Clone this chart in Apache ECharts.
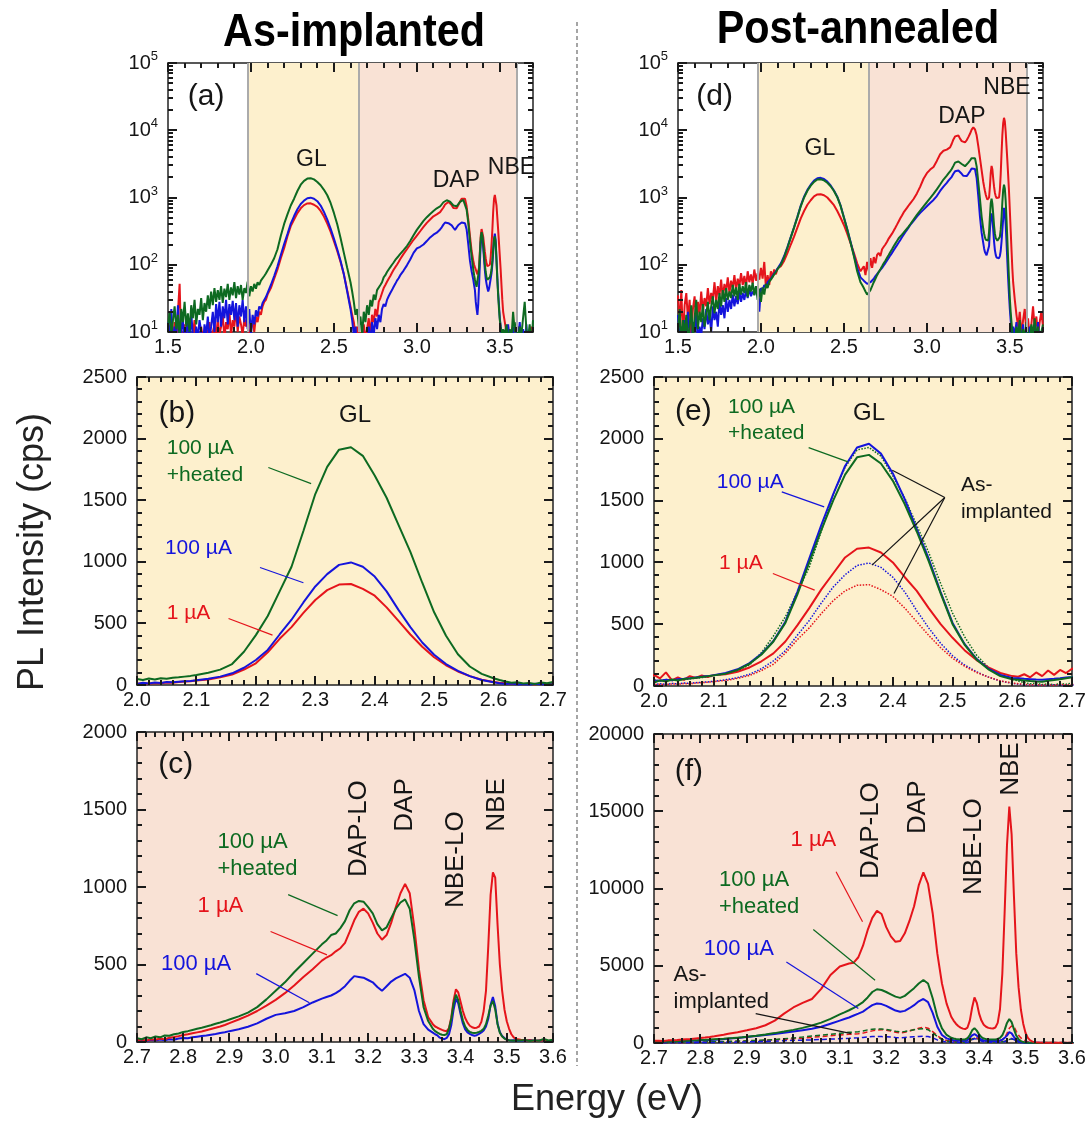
<!DOCTYPE html>
<html>
<head>
<meta charset="utf-8">
<title>PL spectra</title>
<script src="https://cdn.jsdelivr.net/npm/echarts@6.0.0/dist/echarts.min.js"></script>
<style>
html, body { margin: 0; padding: 0; background: #fff; }
#main { width: 1092px; height: 1126px; }
</style>
</head>
<body>
<div id="main"></div>
<script>
// photon energy (eV), one grid shared by every spectrum
var energy = [
  1.50,1.51,1.52,1.53,1.54,1.55,1.56,1.57,1.58,1.59,1.60,1.61,1.62,1.63,1.64,1.65,1.66,1.67,1.68,1.69,
  1.70,1.71,1.72,1.73,1.74,1.75,1.76,1.77,1.78,1.79,1.80,1.81,1.82,1.83,1.84,1.85,1.86,1.87,1.88,1.89,
  1.90,1.91,1.92,1.93,1.94,1.95,1.96,1.97,1.98,1.99,2.00,2.01,2.02,2.03,2.04,2.05,2.06,2.07,2.08,2.09,2.10,
  2.12,2.14,2.16,2.18,2.20,2.22,2.24,2.26,2.28,2.30,2.32,2.34,2.36,2.38,2.40,2.42,2.44,2.46,2.48,2.50,
  2.52,2.54,2.56,2.58,2.60,
  2.61,2.62,2.63,2.64,2.65,2.66,2.67,2.68,2.69,2.70,2.71,2.72,2.73,2.74,2.75,2.76,2.77,2.78,2.79,2.80,
  2.81,2.82,2.83,2.84,2.85,2.86,2.87,2.88,2.89,2.90,
  2.92,2.94,2.96,2.98,3.00,3.02,3.04,3.06,3.08,3.10,
  3.11,3.12,3.13,3.14,3.15,3.16,3.17,3.18,3.19,3.20,3.21,3.22,3.23,3.24,3.25,3.26,3.27,3.28,3.29,3.30,
  3.31,3.32,3.33,3.34,
  3.345,3.35,3.355,3.36,3.365,3.37,3.375,3.38,3.385,3.39,3.395,3.40,3.405,3.41,3.415,3.42,3.425,3.43,
  3.435,3.44,3.445,3.45,3.455,3.46,3.465,3.47,3.475,3.48,3.485,3.49,3.495,3.50,3.505,3.51,3.515,3.52,
  3.53,3.54,3.55,3.56,3.57,3.58,3.59,3.60,3.61,3.62,3.63,3.64,3.65,3.66,3.67,3.68,3.69,3.70
];

// as-implanted, 1 uA (cps)
var aiRed = [
  6,12,5,8,14,7,20,52,6,9, 13,5,8,11,6,9,15,7,10,6, 12,8,5,11,9,14,7,10,13,8,
  16,9,12,18,8,14,11,20,9,15, 12,22,10,17,13,9,16,12,19,8, 11,15,10,17,14,20,18,24,28,30, 36,
  45,62,85,125,176, 265,375,470,585,690, 770,815,820,780,725, 630,520,410,310,225, 160,110,72,42,24,
  18,14,9,12,6,10,5,13,8,11, 16,9,18,14,22,17,28,32,38,45, 50,56,62,68,76,84,92,100,110,122,
  145,170,200,235,272,315,365,420,470,525,
  545,560,585,605,640,710,785,840,860,830, 770,700,660,690,770,870,960,1020,960,740, 470,270,160,115,
  100,92,85,78,72,70,90,160,270,340, 320,260,200,155,125,105,95,90,92,100,
  130,200,330,620,950,1095,1060,760,500,330, 210,134,85,50,30,20,
  14,10,12,7,9,11,6,8,12,5, 9,7,10,6,8,5,12,7
];
// as-implanted, 100 uA
var aiBlue = [
  14,8,22,6,12,9,25,7,11,16, 5,10,14,7,19,9,6,12,8,15, 10,6,13,9,17,8,12,20,10,26,
  14,28,12,24,16,30,13,26,18,29, 15,27,12,25,17,30,14,24,11,22, 9,18,13,21,17,24,22,27,30,33, 38,
  50,68,95,140,203, 285,410,530,670,800, 900,975,995,960,880, 760,610,470,345,245, 170,115,72,40,22,
  15,9,12,5,8,4,11,6,9,5, 12,7,14,9,16,11,18,14,22,26, 24,30,34,38,42,47,52,58,63,70,
  82,98,120,150,175,185,200,225,255,280,
  290,300,315,335,360,395,425,420,415,400, 385,355,330,360,390,410,425,440,415,335, 200,115,80,60,
  50,42,28,22,18,26,50,110,210,280, 250,180,120,82,62,52,45,40,44,52,
  62,75,100,150,240,290,230,120,65,38, 25,16,12,9,11,8,
  10,7,13,6,9,12,5,10,8,14, 6,11,7,13,5,9,6,8
];
// as-implanted, 100 uA + heated
var aiGreen = [
  12,20,9,15,24,11,18,8,22,14, 28,12,19,10,25,16,30,13,22,18, 32,15,27,20,35,22,40,25,45,28,
  42,30,48,27,44,33,52,30,46,35, 55,32,48,36,50,30,45,38,56,34, 48,40,52,44,55,50,58,62,68,74, 82,
  100,125,170,270,405, 560,760,960,1250,1550, 1770,1910,1930,1860,1700, 1520,1300,1080,830,590, 400,250,150,90,55,
  40,28,18,22,12,17,9,20,14,25, 18,30,24,36,30,42,40,50,55,65, 70,78,85,92,100,108,118,126,135,145,
  165,190,225,275,330,385,450,510,570,630,
  655,690,700,735,780,850,895,910,905,870, 830,760,720,740,800,860,900,920,860,660, 420,225,135,85,
  70,60,52,47,45,50,85,150,250,305, 270,200,140,100,78,65,60,58,60,65,
  72,85,115,170,235,265,210,115,60,35, 22,15,12,10,8,11,
  9,13,7,11,8,20,10,14,7,12, 9,16,28,11,8,13,6,15
];

// post-annealed, 1 uA
var paRed = [
  35,12,42,8,25,38,15,30,9,22, 34,14,28,18,40,20,32,24,45,26, 38,30,55,28,48,35,60,32,52,40,
  65,38,58,45,70,42,62,48,75,50, 68,46,80,55,72,52,85,58,75,60, 90,62,110,45,70,50,80,65,85,72, 88,
  95,115,150,200,264, 360,490,630,780,910, 1040,1110,1120,1080,1000, 880,770,630,500,390, 290,210,150,105,80,
  75,95,70,110,80,125,90,130,105,140, 150,135,170,185,200,220,245,260,290,320, 355,395,440,490,540,600,650,700,760,820,
  950,1150,1450,1900,2300,2600,2850,3500,4400,4950,
  5050,5150,5200,5550,6300,7300,8100,8550,8350,7500, 6900,6550,6600,7100,7900,8850,10200,11050,10300,8400, 5800,3850,2550,1700,
  1450,1250,1100,1000,930,900,1000,1450,2300,2950, 2600,1900,1450,1180,1050,980,950,940,1000,1300,
  2200,4500,8500,12800,15300,13500,9500,5800,3600,2150, 1250,650,330,170,90,55,
  30,18,12,20,9,15,22,10,16,8, 13,24,11,17,9,14,20,12
];
// post-annealed, 100 uA
var paBlue = [
  18,8,12,5,15,7,20,9,6,14, 10,18,7,12,9,16,11,22,13,18, 10,24,15,20,12,28,18,25,16,32,
  20,30,22,36,24,34,26,40,28,38, 30,42,32,45,34,40,36,48,38,20, 45,42,50,46,55,58,62,68,74,80, 88,
  105,135,185,260,364, 520,760,1030,1300,1550, 1780,1930,1960,1880,1720, 1510,1270,1030,760,510, 340,220,140,90,65,
  62,58,55,52,50,55,58,62,68,72, 78,84,90,98,106,116,126,138,150,165, 180,196,214,234,256,280,305,330,360,390,
  450,520,590,660,740,830,920,1050,1250,1450,
  1550,1650,1780,1900,2030,2250,2450,2560,2520,2400, 2250,2100,2020,2080,2250,2450,2700,2850,2650,1950, 1050,520,300,210,
  175,155,145,138,135,140,190,330,500,580, 480,330,220,165,140,128,123,122,125,135,
  160,220,330,480,700,620,400,220,115,62, 36,22,15,11,8,12,
  9,14,6,11,8,13,5,10,7,12, 9,6,11,8,14,7,10,9
];
// post-annealed, 100 uA + heated
var paGreen = [
  10,22,6,15,9,18,7,12,25,8, 16,30,11,20,14,26,12,18,28,15, 24,34,19,30,22,38,24,42,28,45,
  30,40,32,50,34,46,30,52,36,48, 38,55,33,50,40,54,35,48,30,44, 28,46,36,52,45,56,60,66,72,78, 86,
  100,130,180,255,360, 510,740,1000,1260,1500, 1710,1850,1870,1800,1660, 1470,1250,1010,750,500, 335,215,135,80,55,
  50,45,40,36,35,42,48,55,62,70, 78,86,95,105,115,127,140,155,170,188, 206,226,248,265,280,300,320,345,370,400,
  470,550,640,740,850,980,1130,1320,1560,1850,
  1980,2120,2280,2450,2650,2950,3300,3480,3430,3300, 3150,3000,2920,3050,3300,3550,3850,4080,3850,2900, 1700,950,520,340,
  290,255,235,225,220,230,310,520,820,960, 800,560,380,290,250,235,228,225,232,260,
  330,500,850,1300,1550,1350,900,480,240,120, 60,32,20,14,10,8,
  7,12,9,15,6,11,8,14,10,7, 13,9,16,8,12,6,10,13
];

// GL band and UV band edges in (a) and (d)
var bandEdges = [1.98, 2.65, 3.6];

// panel order: (a) (d) (b) (e) (c) (f)
var gridBoxes = [
  {left: 168, top: 63, width: 365, height: 269},
  {left: 678, top: 63, width: 365, height: 269},
  {left: 137, top: 377, width: 416, height: 308},
  {left: 654, top: 377, width: 418, height: 309},
  {left: 137, top: 732, width: 416, height: 310},
  {left: 654, top: 734, width: 418, height: 309}
];
// min, max, labelled step, minor ticks per step
var xRange = [[1.5, 3.7, 0.5, 5], [1.5, 3.7, 0.5, 5], [2.0, 2.7, 0.1, 5], [2.0, 2.7, 0.1, 5], [2.7, 3.6, 0.1, 5], [2.7, 3.6, 0.1, 5]];
var yRange = [[10, 100000, 'log'], [10, 100000, 'log'], [0, 2500, 500, 5], [0, 2500, 500, 5], [0, 2000, 500, 5], [0, 20000, 5000, 5]];

var ink = '#151515';
var col = {r: '#e5141b', b: '#1414dc', g: '#0d6a21', k: ink};
var yellow = '#fdf0cd', pink = '#f9e2d5';
var gridFill = [null, null, yellow, yellow, pink, pink];
var font = '"Liberation Sans", Arial, Helvetica, sans-serif';

// text labels: grid, x, y, text, colour, size, align
var notes = [
  [0, 1.73, 32000, '(a)', 'k', 30, 'center'],
  [0, 2.364, 3700, 'GL', 'k', 23, 'center'],
  [0, 3.238, 1780, 'DAP', 'k', 23, 'center'],
  [0, 3.57, 2800, 'NBE', 'k', 23, 'center'],
  [1, 1.721, 32000, '(d)', 'k', 30, 'center'],
  [1, 2.355, 5300, 'GL', 'k', 23, 'center'],
  [1, 3.211, 15800, 'DAP', 'k', 23, 'center'],
  [1, 3.483, 42600, 'NBE', 'k', 23, 'center'],
  [2, 2.067, 2203, '(b)', 'k', 30, 'center'],
  [2, 2.367, 2189, 'GL', 'k', 24, 'center'],
  [2, 2.05, 1919, '100 µA', 'g', 21, 'left'],
  [2, 2.05, 1703, '+heated', 'g', 21, 'left'],
  [2, 2.047, 1108, '100 µA', 'b', 21, 'left'],
  [2, 2.05, 581, '1 µA', 'r', 21, 'left'],
  [3, 2.066, 2217, '(e)', 'k', 30, 'center'],
  [3, 2.36, 2204, 'GL', 'k', 24, 'center'],
  [3, 2.124, 2258, '100 µA', 'g', 21, 'left'],
  [3, 2.124, 2042, '+heated', 'g', 21, 'left'],
  [3, 2.105, 1651, '100 µA', 'b', 21, 'left'],
  [3, 2.109, 991, '1 µA', 'r', 21, 'left'],
  [3, 2.514, 1624, 'As-', 'k', 21, 'left'],
  [3, 2.514, 1409, 'implanted', 'k', 21, 'left'],
  [4, 2.784, 1788, '(c)', 'k', 30, 'center'],
  [4, 3.179, 1377, 'DAP-LO', 'k', 26, 'rot'],
  [4, 3.279, 1529, 'DAP', 'k', 26, 'rot'],
  [4, 3.389, 1176, 'NBE-LO', 'k', 26, 'rot'],
  [4, 3.478, 1529, 'NBE', 'k', 26, 'rot'],
  [4, 2.874, 1291, '100 µA', 'g', 22, 'left'],
  [4, 2.874, 1118, '+heated', 'g', 22, 'left'],
  [4, 2.831, 880, '1 µA', 'r', 22, 'left'],
  [4, 2.752, 502, '100 µA', 'b', 22, 'left'],
  [5, 2.775, 17580, '(f)', 'k', 30, 'center'],
  [5, 3.167, 13750, 'DAP-LO', 'k', 26, 'rot'],
  [5, 3.268, 15260, 'DAP', 'k', 26, 'rot'],
  [5, 3.388, 12710, 'NBE-LO', 'k', 26, 'rot'],
  [5, 3.468, 17730, 'NBE', 'k', 26, 'rot'],
  [5, 2.994, 13150, '1 µA', 'r', 22, 'left'],
  [5, 2.84, 10550, '100 µA', 'g', 22, 'left'],
  [5, 2.84, 8820, '+heated', 'g', 22, 'left'],
  [5, 2.807, 6120, '100 µA', 'b', 22, 'left'],
  [5, 2.742, 4390, 'As-', 'k', 22, 'left'],
  [5, 2.742, 2660, 'implanted', 'k', 22, 'left']
];
// pointer lines: grid, x1, y1, x2, y2, colour
var leaders = [
  [2, 2.221, 1765, 2.293, 1635, 'g'],
  [2, 2.207, 954, 2.28, 830, 'b'],
  [2, 2.154, 540, 2.228, 405, 'r'],
  [3, 2.259, 1929, 2.325, 1813, 'g'],
  [3, 2.214, 1571, 2.285, 1449, 'b'],
  [3, 2.199, 910, 2.269, 776, 'r'],
  [3, 2.487, 1525, 2.399, 1746, 'k'],
  [3, 2.487, 1525, 2.365, 978, 'k'],
  [3, 2.487, 1525, 2.402, 749, 'k'],
  [4, 3.027, 951, 3.134, 815, 'g'],
  [4, 2.989, 713, 3.111, 562, 'r'],
  [4, 2.958, 441, 3.073, 253, 'b'],
  [5, 3.092, 11090, 3.149, 7850, 'r'],
  [5, 3.043, 7350, 3.176, 4065, 'g'],
  [5, 2.985, 5250, 3.14, 2230, 'b'],
  [5, 2.919, 1900, 3.125, 605, 'k']
];

var chart = echarts.init(document.getElementById('main'));

var frameLine = {color: '#222', width: 1.5};
var tickColor = '#1a1a1a';

var grids = [], xAxes = [], yAxes = [];
gridBoxes.forEach(function (b, g) {
  grids.push({
    left: b.left, top: b.top, width: b.width, height: b.height,
    show: !!gridFill[g], backgroundColor: gridFill[g] || 'transparent', borderWidth: 0
  });
  var xr = xRange[g], yr = yRange[g];
  [false, true].forEach(function (mirror) {
    xAxes.push({
      type: 'value', gridIndex: g, position: mirror ? 'top' : 'bottom',
      min: xr[0], max: xr[1], interval: xr[2],
      axisLine: {show: true, onZero: false, lineStyle: frameLine},
      axisTick: {show: false},
      splitLine: {show: false},
      axisLabel: {
        show: !mirror, margin: 5, fontSize: 20, fontFamily: font, color: ink,
        formatter: function (v) {
          if (g < 2 && v > 3.65) return '';
          return v.toFixed(1);
        }
      }
    });
    if (yr[2] === 'log') {
      yAxes.push({
        type: 'log', logBase: 10, gridIndex: g, position: mirror ? 'right' : 'left',
        min: yr[0], max: yr[1],
        axisLine: {show: true, onZero: false, lineStyle: frameLine},
        axisTick: {show: false},
        splitLine: {show: false},
        axisLabel: {
          show: !mirror, margin: 10,
          formatter: function (v) { return '{b|10}{s|' + Math.round(Math.log10(v)) + '}'; },
          rich: {
            b: {fontSize: 20, fontFamily: font, color: ink, lineHeight: 26},
            s: {fontSize: 13, fontFamily: font, color: ink, lineHeight: 14, verticalAlign: 'top'}
          }
        }
      });
    } else {
      yAxes.push({
        type: 'value', gridIndex: g, position: mirror ? 'right' : 'left',
        min: yr[0], max: yr[1], interval: yr[2],
        axisLine: {show: true, onZero: false, lineStyle: frameLine},
        axisTick: {show: false},
        splitLine: {show: false},
        axisLabel: {
          show: !mirror, margin: 10, fontSize: 20, fontFamily: font, color: ink,
          formatter: function (v) { return String(Math.round(v)); }
        }
      });
    }
  });
});

function spectrum(g, vals, c, type, width) {
  return {
    type: 'line', xAxisIndex: 2 * g, yAxisIndex: 2 * g,
    data: energy.map(function (e, i) { return [e, vals[i]]; }),
    showSymbol: false, symbol: 'none', silent: true, z: 3,
    lineStyle: {color: c, width: width || 2, type: type || 'solid'}
  };
}

var series = [];
// coloured bands and their edges in (a) and (d)
[0, 1].forEach(function (g) {
  series.push({
    type: 'line', xAxisIndex: 2 * g, yAxisIndex: 2 * g, data: [], z: 1, silent: true,
    markArea: {
      silent: true,
      data: [
        [{xAxis: bandEdges[0], itemStyle: {color: yellow}}, {xAxis: bandEdges[1]}],
        [{xAxis: bandEdges[1], itemStyle: {color: pink}}, {xAxis: bandEdges[2]}]
      ]
    },
    markLine: {
      silent: true, symbol: ['none', 'none'], label: {show: false},
      lineStyle: {color: '#ababab', width: 2, type: 'solid'},
      data: bandEdges.map(function (e) { return {xAxis: e}; })
    }
  });
});
series.push(spectrum(0, aiRed, col.r), spectrum(0, aiBlue, col.b), spectrum(0, aiGreen, col.g));
series.push(spectrum(1, paRed, col.r), spectrum(1, paBlue, col.b), spectrum(1, paGreen, col.g));
series.push(spectrum(2, aiRed, col.r), spectrum(2, aiBlue, col.b), spectrum(2, aiGreen, col.g));
series.push(spectrum(3, aiGreen, col.g, 'dotted', 1.5), spectrum(3, aiBlue, col.b, 'dotted', 1.5),
  spectrum(3, aiRed, col.r, 'dotted', 1.5), spectrum(3, paRed, col.r), spectrum(3, paBlue, col.b),
  spectrum(3, paGreen, col.g));
series.push(spectrum(4, aiBlue, col.b), spectrum(4, aiRed, col.r), spectrum(4, aiGreen, col.g));
series.push(spectrum(5, aiRed, col.r, [5, 3], 1.5), spectrum(5, aiGreen, col.g, [5, 3], 1.5),
  spectrum(5, aiBlue, col.b, [5, 3], 1.5), spectrum(5, paBlue, col.b), spectrum(5, paGreen, col.g),
  spectrum(5, paRed, col.r));

chart.setOption({
  animation: false,
  backgroundColor: '#fff',
  grid: grids,
  xAxis: xAxes,
  yAxis: yAxes,
  series: series
});

function px(g, x, y) {
  return chart.convertToPixel({xAxisIndex: 2 * g, yAxisIndex: 2 * g}, [x, y]);
}

var gfx = [];
// titles, shared axis names, divider
gfx.push({type: 'text', x: 354, y: 33, scaleX: 0.88,
  style: {text: 'As-implanted', fill: '#000', fontSize: 47, fontWeight: 'bold', fontFamily: font,
    align: 'center', verticalAlign: 'middle', textAlign: 'center', textVerticalAlign: 'middle'}});
gfx.push({type: 'text', x: 858, y: 30, scaleX: 0.88,
  style: {text: 'Post-annealed', fill: '#000', fontSize: 47, fontWeight: 'bold', fontFamily: font,
    align: 'center', verticalAlign: 'middle', textAlign: 'center', textVerticalAlign: 'middle'}});
gfx.push({type: 'text', x: 33, y: 552, rotation: Math.PI / 2,
  style: {text: 'PL Intensity (cps)', fill: '#222', fontSize: 36, fontFamily: font,
    align: 'center', verticalAlign: 'middle', textAlign: 'center', textVerticalAlign: 'middle'}});
gfx.push({type: 'text', x: 607, y: 1100,
  style: {text: 'Energy (eV)', fill: '#222', fontSize: 36, fontFamily: font,
    align: 'center', verticalAlign: 'middle', textAlign: 'center', textVerticalAlign: 'middle'}});
gfx.push({type: 'line', shape: {x1: 577, y1: 22, x2: 577, y2: 1066},
  style: {stroke: '#6a6a6a', lineWidth: 1.2, lineDash: [4, 3]}});

// inward ticks on all four sides of every frame, snapped to whole pixels
function tickLine(x1, y1, x2, y2) {
  gfx.push({type: 'line', z: 60, silent: true,
    shape: {x1: Math.round(x1), y1: Math.round(y1), x2: Math.round(x2), y2: Math.round(y2)},
    style: {stroke: tickColor, lineWidth: 2}});
}
gridBoxes.forEach(function (b, g) {
  var xr = xRange[g], yr = yRange[g];
  var top = b.top, bottom = b.top + b.height, left = b.left, right = b.left + b.width;
  var step = xr[2] / xr[3];
  var n = Math.round((xr[1] - xr[0]) / step);
  for (var i = 0; i <= n; i++) {
    var x = px(g, xr[0] + i * step, yr[0])[0];
    var len = i % xr[3] === 0 ? 9 : 5;
    tickLine(x, bottom, x, bottom - len);
    tickLine(x, top, x, top + len);
  }
  var vals = [];
  if (yr[2] === 'log') {
    for (var k = 1; k <= 5; k++) {
      vals.push([Math.pow(10, k), 9]);
      if (k < 5) for (var m = 2; m <= 9; m++) vals.push([m * Math.pow(10, k), 5]);
    }
  } else {
    var ys = yr[2] / yr[3];
    var ny = Math.round((yr[1] - yr[0]) / ys);
    for (var j = 0; j <= ny; j++) vals.push([yr[0] + j * ys, j % yr[3] === 0 ? 9 : 5]);
  }
  vals.forEach(function (v) {
    var y = px(g, xr[0], v[0])[1];
    tickLine(left, y, left + v[1], y);
    tickLine(right, y, right - v[1], y);
  });
});

leaders.forEach(function (l) {
  var p1 = px(l[0], l[1], l[2]), p2 = px(l[0], l[3], l[4]);
  gfx.push({type: 'line', z: 50, shape: {x1: p1[0], y1: p1[1], x2: p2[0], y2: p2[1]},
    style: {stroke: col[l[5]], lineWidth: 1.2}});
});

notes.forEach(function (n) {
  var p = px(n[0], n[1], n[2]);
  var rot = n[6] === 'rot';
  var align = rot ? 'center' : n[6];
  gfx.push({type: 'text', z: 50, x: p[0], y: p[1], rotation: rot ? Math.PI / 2 : 0,
    style: {text: n[3], fill: col[n[4]], fontSize: n[5], fontFamily: font,
      align: align, verticalAlign: 'middle', textAlign: align, textVerticalAlign: 'middle'}});
});

chart.setOption({graphic: gfx});

window.onresize = function () {
  chart.resize();
};
</script>
</body>
</html>
